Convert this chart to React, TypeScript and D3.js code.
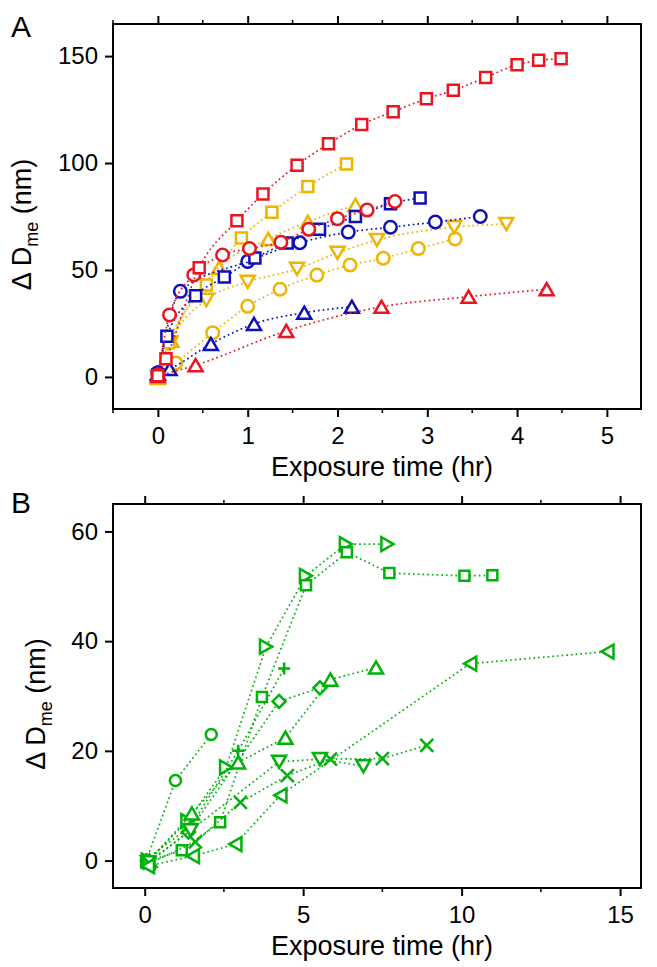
import React, { useEffect, useRef } from 'react';
import * as d3 from 'd3';

// panel A: exposure time (hr) vs delta D_me (nm)
const redSquare = [[0, 0.5], [0.09, 8.5], [0.46, 51], [0.88, 73], [1.17, 85.5], [1.55, 99], [1.9, 109], [2.27, 118], [2.62, 124], [2.99, 130], [3.29, 134], [3.65, 140], [4.0, 146], [4.24, 148], [4.49, 148.7]];
const redCircle = [[0, 1], [0.13, 29], [0.4, 47.7], [0.72, 57], [1.02, 60], [1.37, 63], [1.68, 69], [2.0, 74], [2.33, 78], [2.64, 82]];
const redTriangle = [[0, 0.5], [0.42, 5.5], [1.43, 21.5], [2.49, 32.8], [3.46, 37.5], [4.33, 41]];
const blueSquare = [[0, 1], [0.1, 19], [0.42, 38], [0.74, 46.7], [1.08, 55.6], [1.44, 62.6], [1.8, 69], [2.2, 75], [2.59, 81], [2.92, 83.7]];
const blueCircle = [[0, 2], [0.25, 40], [1.0, 54], [1.58, 62.7], [2.12, 67.7], [2.59, 70], [3.09, 72.4], [3.59, 75]];
const blueTriangle = [[0, 1.5], [0.13, 3.7], [0.59, 15.4], [1.07, 24.8], [1.63, 30], [2.16, 32.8]];
const orangeSquare = [[0, 1], [0.12, 16], [0.54, 43], [0.93, 65], [1.27, 77], [1.67, 89], [2.1, 99.6]];
const orangeUp = [[0, -0.5], [0.15, 17], [0.68, 51], [1.23, 64.5], [1.67, 72.5], [2.2, 80.4]];
const orangeDown = [[0, 0], [0.14, 16], [0.54, 36], [1.0, 44.4], [1.55, 50.5], [2.0, 58], [2.44, 64], [3.3, 70], [3.88, 71.5]];
const orangeCircle = [[0, 0], [0.2, 6.5], [0.61, 20.7], [1.0, 33], [1.36, 41], [1.77, 47.6], [2.14, 52.3], [2.51, 55.5], [2.9, 60], [3.31, 64.5]];

// panel B
const gCircle = [[0.05, 0], [0.97, 14.6], [2.1, 23]];
const gRight = [[0.1, 0], [1.35, 7.2], [2.57, 17], [3.83, 39], [5.09, 51.9], [6.35, 57.7], [7.66, 57.7]];
const gSquare = [[0.05, -0.3], [1.17, 1.9], [2.38, 7], [3.7, 29.8], [5.09, 50.2], [6.38, 56.2], [7.72, 52.4], [10.09, 51.9], [10.97, 52]];
const gDiamond = [[0.1, -0.5], [1.38, 5.2], [4.24, 29], [5.53, 31.5]];
const gUp = [[0.15, 0], [1.49, 8.6], [2.95, 17.9], [4.44, 22.4], [5.86, 33], [7.3, 35.2]];
const gPlus = [[0.05, 0.3], [1.43, 6.1], [2.95, 20], [4.4, 35]];
const gDown = [[0.1, -0.3], [1.45, 5.5], [4.24, 18], [5.53, 18.5], [6.9, 17.2]];
const gCross = [[0.15, -0.5], [1.6, 3.4], [3.02, 10.6], [4.5, 15.5], [5.86, 18.5], [7.5, 18.6], [8.9, 21]];
const gLeft = [[0.1, -1], [1.52, 0.8], [2.86, 3], [4.28, 11.9], [10.27, 35.9], [14.6, 38.1]];

const xTicksA = [0, 1, 2, 3, 4, 5];
const yTicksA = [0, 50, 100, 150];
const xTicksB = [0, 5, 10, 15];
const yTicksB = [0, 20, 40, 60];

const RED = '#ea1520';
const BLUE = '#0d10b8';
const ORANGE = '#eeb400';
const GREEN = '#00b20a';
const FONT = 'Liberation Sans, Arial, sans-serif';

function marker(shape: string, s: number) {
  const r = s / 2;
  const h = s * 0.87 / 2;
  switch (shape) {
    case 'square': return `M${-r},${-r}h${s}v${s}h${-s}Z`;
    case 'circle': return `M${r},0A${r},${r} 0 1,1 ${-r},0A${r},${r} 0 1,1 ${r},0Z`;
    case 'up': return `M0,${-h}L${r},${h}L${-r},${h}Z`;
    case 'down': return `M0,${h}L${r},${-h}L${-r},${-h}Z`;
    case 'left': return `M${-h},0L${h},${-r}L${h},${r}Z`;
    case 'right': return `M${h},0L${-h},${-r}L${-h},${r}Z`;
    case 'diamond': return `M0,${-r}L${r},0L0,${r}L${-r},0Z`;
    case 'plus': return `M${-r},0H${r}M0,${-r}V${r}`;
    case 'cross': return `M${-r},${-r}L${r},${r}M${-r},${r}L${r},${-r}`;
  }
  return '';
}

function drawPanel(svg: any, cfg: any) {
  const { left, right, top, bottom, xDomain, yDomain, xTicks, yTicks, xMinor, series, curve, letter, letterY } = cfg;
  const x = d3.scaleLinear().domain(xDomain).range([left, right]);
  const y = d3.scaleLinear().domain(yDomain).range([bottom, top]);
  const g = svg.append('g');

  // each series: dotted line then its markers
  series.forEach((s: any) => {
    const line = d3.line().x((d: any) => x(d[0])).y((d: any) => y(d[1])).curve(curve);
    g.append('path').attr('d', line(s.data)).attr('fill', 'none')
      .attr('stroke', s.color).attr('stroke-width', 1.7).attr('stroke-dasharray', '1.7,3');
    g.selectAll(null).data(s.data).enter().append('path')
      .attr('d', marker(s.shape, s.size))
      .attr('transform', (d: any) => `translate(${x(d[0])},${y(d[1])})`)
      .attr('fill', s.shape === 'plus' || s.shape === 'cross' ? 'none' : '#fff')
      .attr('stroke', s.color).attr('stroke-width', 2.5);
  });

  // frame
  g.append('rect').attr('x', left).attr('y', top).attr('width', right - left).attr('height', bottom - top)
    .attr('fill', 'none').attr('stroke', '#000').attr('stroke-width', 2);

  const styleAxis = (a: any) => {
    a.select('.domain').remove();
    a.selectAll('line').attr('stroke', '#000').attr('stroke-width', 2);
    a.selectAll('text').attr('font-family', FONT).attr('font-size', 24).attr('fill', '#000');
  };
  g.append('g').attr('transform', `translate(0,${bottom})`)
    .call(d3.axisBottom(x).tickValues(xTicks).tickSize(8).tickPadding(10).tickFormat(d3.format('d')))
    .call(styleAxis);
  g.append('g').attr('transform', `translate(0,${top})`)
    .call(d3.axisTop(x).tickValues(xTicks).tickSize(8).tickFormat(() => ''))
    .call(styleAxis);
  g.append('g').attr('transform', `translate(${left},0)`)
    .call(d3.axisLeft(y).tickValues(yTicks).tickSize(8).tickPadding(7).tickFormat(d3.format('d')))
    .call(styleAxis);
  // minor ticks
  [[bottom, 1], [top, -1]].forEach(([yy, dir]) => {
    g.selectAll(null).data(xMinor).enter().append('line')
      .attr('x1', (d: number) => x(d)).attr('x2', (d: number) => x(d))
      .attr('y1', yy).attr('y2', yy + dir * 4)
      .attr('stroke', '#000').attr('stroke-width', 1.5);
  });

  // labels
  g.append('text').attr('x', (left + right) / 2 + 5).attr('y', bottom + 67)
    .attr('text-anchor', 'middle').attr('font-family', FONT).attr('font-size', 27)
    .text('Exposure time (hr)');
  const yl = g.append('text').attr('transform', `translate(${cfg.yLabelX},${(top + bottom) / 2 + 8}) rotate(-90)`)
    .attr('text-anchor', 'middle').attr('font-family', FONT).attr('font-size', 27);
  yl.append('tspan').text('\u0394 D');
  yl.append('tspan').attr('font-size', 18).attr('dy', 7).text('me');
  yl.append('tspan').attr('dy', -7).text(' (nm)');
  g.append('text').attr('x', 11).attr('y', letterY).attr('font-family', FONT).attr('font-size', 30).text(letter);
}

export default function App() {
  const ref = useRef<SVGSVGElement>(null);
  useEffect(() => {
    const svg = d3.select(ref.current);
    svg.selectAll('*').remove();

    drawPanel(svg, {
      left: 113, right: 641, top: 24, bottom: 409,
      xDomain: [-0.5, 5.38], yDomain: [-15, 165],
      xTicks: xTicksA, yTicks: yTicksA,
      xMinor: [-0.5, 0.5, 1.5, 2.5, 3.5, 4.5],
      curve: d3.curveMonotoneX, letter: 'A', letterY: 37, yLabelX: 31,
      series: [
        { data: orangeCircle, shape: 'circle', color: ORANGE, size: 12.5 },
        { data: orangeDown, shape: 'down', color: ORANGE, size: 14 },
        { data: orangeUp, shape: 'up', color: ORANGE, size: 14 },
        { data: orangeSquare, shape: 'square', color: ORANGE, size: 11 },
        { data: blueTriangle, shape: 'up', color: BLUE, size: 14 },
        { data: blueCircle, shape: 'circle', color: BLUE, size: 12.5 },
        { data: blueSquare, shape: 'square', color: BLUE, size: 11 },
        { data: redTriangle, shape: 'up', color: RED, size: 14 },
        { data: redCircle, shape: 'circle', color: RED, size: 12.5 },
        { data: redSquare, shape: 'square', color: RED, size: 11 },
      ],
    });

    drawPanel(svg, {
      left: 113, right: 641, top: 504, bottom: 888,
      xDomain: [-1, 15.66], yDomain: [-5, 65],
      xTicks: xTicksB, yTicks: yTicksB,
      xMinor: [2.5, 7.5, 12.5],
      curve: d3.curveLinear, letter: 'B', letterY: 513, yLabelX: 45,
      series: [
        { data: gCircle, shape: 'circle', color: GREEN, size: 11 },
        { data: gRight, shape: 'right', color: GREEN, size: 14 },
        { data: gSquare, shape: 'square', color: GREEN, size: 10 },
        { data: gDiamond, shape: 'diamond', color: GREEN, size: 13 },
        { data: gUp, shape: 'up', color: GREEN, size: 14 },
        { data: gPlus, shape: 'plus', color: GREEN, size: 12 },
        { data: gDown, shape: 'down', color: GREEN, size: 14 },
        { data: gCross, shape: 'cross', color: GREEN, size: 13 },
        { data: gLeft, shape: 'left', color: GREEN, size: 14 },
      ],
    });
  }, []);
  return (
    <svg ref={ref} width={657} height={967}
      style={{ position: 'absolute', left: 0, top: 0, background: '#fff' }} />
  );
}
